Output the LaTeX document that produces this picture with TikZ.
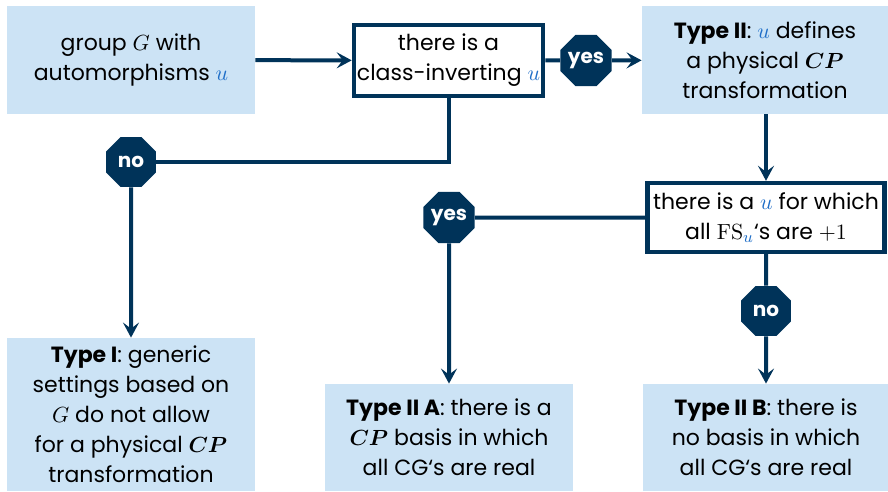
\documentclass[tikz,border=0pt,12pt]{standalone}
\usepackage{amsmath}
\usepackage[no-math]{fontspec}
\setmainfont{Poppins}
\usepackage{tikz}
\usetikzlibrary{shapes.geometric}
\usetikzlibrary{arrows.meta}
\usetikzlibrary{positioning}
\definecolor{navy}{RGB}{0,51,89}
\definecolor{boxfill}{RGB}{204,227,245}
\definecolor{ublue}{RGB}{30,110,200}
\newcommand{\uu}{{\color{ublue}u}}
\newcommand{\CP}{\boldsymbol{CP}}
\tikzset{
	infobox/.style={fill=boxfill,minimum width=124pt,minimum height=54pt,align=center,inner sep=2pt,
		font=\fontsize{11}{15}\selectfont},
	askbox/.style={draw=navy,line width=2.2pt,fill=white,align=center,inner xsep=1.5pt,inner ysep=3pt,
		font=\fontsize{11}{15}\selectfont},
	stopsign/.style={regular polygon,regular polygon sides=8,fill=navy,text=white,
		font=\footnotesize\bfseries,minimum size=27pt,inner sep=0pt},
	flow/.style={draw=navy,line width=2pt},
	arr/.style={flow,-{Stealth[length=7.5pt,width=8pt,inset=3pt]}},
	}
\begin{document}
\begin{tikzpicture}[x=0.5pt,y=-0.5pt]
 \useasboundingbox (0,0) rectangle (888,492);

\node (grp) at (131,60) [infobox] {group $G$ with\\automorphisms $\uu$};
\node (inv) at (448.5,60.5) [askbox,minimum width=93.5pt,minimum height=35.5pt] {there is a\\class-inverting $\uu$};
\node (yes1) at (586,60.5) [stopsign] {yes};
\node (typeII) at (765,60) [infobox,minimum width=123pt] {\textbf{Type II}: $\uu$ defines\\a physical $\CP$\\transformation};
\node (no1) at (131,162) [stopsign] {no};
\node (fsu) at (766,217.5) [askbox,minimum width=118.5pt,minimum height=34.5pt] {there is a $\uu$ for which\\all $\mathrm{FS}_{\uu}$`s are $+1$};
\node (yes2) at (449,217.5) [stopsign] {yes};
\node (no2) at (766,311) [stopsign] {no};
\node (typeI) at (131,414.5) [infobox,minimum height=76.5pt] {\textbf{Type I}: generic\\settings based on\\$G$ do not allow\\for a physical $\CP$\\transformation};
\node (typeIIA) at (449,437.5) [infobox,minimum height=53.5pt] {\textbf{Type II A}: there is a\\$\CP$ basis in which\\all CG`s are real};
\node (typeIIB) at (766,437.5) [infobox,minimum width=123pt,minimum height=53.5pt] {\textbf{Type II B}: there is\\no basis in which\\all CG`s are real};

 \draw[arr] (grp) -- (inv);
 \draw[flow] (inv) -- (yes1);
 \draw[arr] (yes1) -- (typeII);
 \draw[flow] (inv.south) |- (no1);
 \draw[arr] (no1) -- (typeI);
 \draw[arr] (typeII.south -| fsu) -- (fsu);
 \draw[flow] (fsu) -- (yes2);
 \draw[arr] (yes2) -- (typeIIA);
 \draw[flow] (fsu) -- (no2);
 \draw[arr] (no2) -- (typeIIB);
\end{tikzpicture}
\end{document}
